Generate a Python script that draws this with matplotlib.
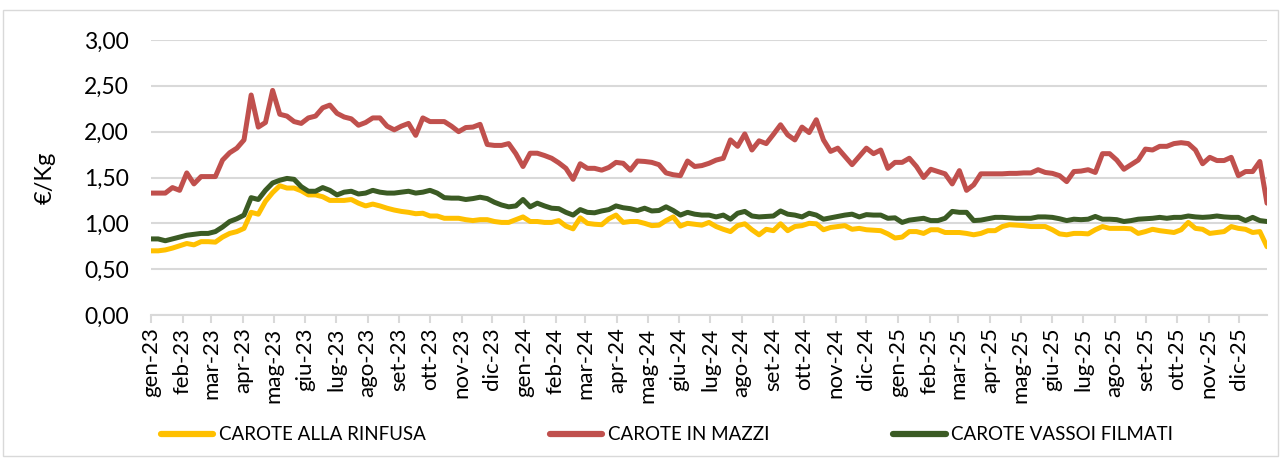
import matplotlib
matplotlib.use("Agg")
import matplotlib.pyplot as plt
from matplotlib.patches import Rectangle
import pandas as pd

plt.rcParams['font.family'] = ['Lato', 'DejaVu Sans']

# ---------------- data (weekly, €/Kg) ----------------
start_date = "2023-01-01"
n_weeks = 157

rinfusa = [
    0.70, 0.70, 0.71, 0.73, 0.755, 0.78, 0.765, 0.80, 0.80, 0.795, 0.85, 0.89, 0.91, 0.945, 1.12, 1.10, 1.24, 1.335, 1.41, 1.385, 1.385, 1.355, 1.31, 1.31, 1.29, 1.25,
    1.25, 1.25, 1.26, 1.22, 1.19, 1.21, 1.19, 1.165, 1.145, 1.13, 1.12, 1.105, 1.11, 1.08, 1.08, 1.055, 1.055, 1.055, 1.04, 1.03, 1.04, 1.04, 1.02, 1.01, 1.01, 1.04,
    1.07, 1.02, 1.02, 1.01, 1.01, 1.03, 0.97, 0.94, 1.06, 1.00, 0.99, 0.985, 1.05, 1.09, 1.01, 1.02, 1.02, 1.00, 0.975, 0.98, 1.03, 1.07, 0.97, 1.00, 0.99, 0.98,
    1.01, 0.965, 0.935, 0.91, 0.975, 0.995, 0.93, 0.875, 0.935, 0.92, 0.995, 0.92, 0.965, 0.975, 1.00, 0.995, 0.93, 0.955, 0.965, 0.975, 0.935, 0.945, 0.93, 0.925, 0.92, 0.885, 0.84,
    0.85, 0.91, 0.91, 0.89, 0.93, 0.93, 0.90, 0.90, 0.90, 0.89, 0.875, 0.89, 0.92, 0.92, 0.965, 0.985, 0.98, 0.975, 0.965, 0.965, 0.965, 0.93, 0.885, 0.875, 0.89, 0.89,
    0.885, 0.93, 0.965, 0.945, 0.945, 0.945, 0.94, 0.89, 0.91, 0.935, 0.92, 0.91, 0.90, 0.93, 1.01, 0.945, 0.935, 0.89, 0.90, 0.91, 0.965, 0.945, 0.935, 0.90, 0.91, 0.745,
]

mazzi = [
    1.33, 1.33, 1.33, 1.39, 1.36, 1.55, 1.43, 1.51, 1.51, 1.51, 1.69, 1.77, 1.82, 1.91, 2.40, 2.05, 2.10, 2.45, 2.19, 2.17, 2.11, 2.09, 2.15, 2.17, 2.26, 2.29,
    2.20, 2.16, 2.14, 2.07, 2.10, 2.15, 2.15, 2.06, 2.02, 2.06, 2.09, 1.96, 2.15, 2.11, 2.11, 2.11, 2.06, 2.00, 2.045, 2.05, 2.08, 1.86, 1.85, 1.85, 1.87, 1.76,
    1.62, 1.765, 1.765, 1.74, 1.71, 1.66, 1.60, 1.48, 1.65, 1.60, 1.60, 1.58, 1.61, 1.665, 1.655, 1.58, 1.68, 1.675, 1.665, 1.64, 1.55, 1.53, 1.52, 1.68, 1.62, 1.63,
    1.655, 1.69, 1.71, 1.91, 1.84, 1.975, 1.80, 1.90, 1.87, 1.97, 2.075, 1.965, 1.91, 2.05, 1.99, 2.13, 1.91, 1.785, 1.82, 1.73, 1.64, 1.73, 1.82, 1.76, 1.80, 1.60, 1.665,
    1.665, 1.71, 1.62, 1.50, 1.59, 1.565, 1.54, 1.43, 1.575, 1.36, 1.42, 1.54, 1.54, 1.54, 1.54, 1.545, 1.545, 1.55, 1.55, 1.585, 1.555, 1.545, 1.52, 1.455, 1.565, 1.57,
    1.585, 1.555, 1.76, 1.76, 1.69, 1.59, 1.64, 1.69, 1.81, 1.80, 1.84, 1.84, 1.87, 1.88, 1.87, 1.80, 1.65, 1.72, 1.685, 1.685, 1.72, 1.52, 1.565, 1.565, 1.675, 1.22,
]

vassoi = [
    0.83, 0.83, 0.81, 0.83, 0.85, 0.87, 0.88, 0.89, 0.89, 0.91, 0.96, 1.02, 1.05, 1.09, 1.28, 1.26, 1.36, 1.44, 1.47, 1.49, 1.48, 1.40, 1.35, 1.35, 1.39, 1.36,
    1.31, 1.34, 1.35, 1.32, 1.33, 1.36, 1.34, 1.33, 1.33, 1.34, 1.35, 1.33, 1.34, 1.36, 1.33, 1.28, 1.275, 1.275, 1.26, 1.27, 1.285, 1.27, 1.23, 1.20, 1.18, 1.19,
    1.26, 1.18, 1.22, 1.19, 1.165, 1.16, 1.12, 1.09, 1.15, 1.12, 1.115, 1.135, 1.15, 1.19, 1.17, 1.16, 1.14, 1.165, 1.135, 1.14, 1.18, 1.14, 1.09, 1.12, 1.10, 1.09,
    1.09, 1.07, 1.09, 1.045, 1.11, 1.13, 1.08, 1.07, 1.075, 1.08, 1.135, 1.10, 1.09, 1.07, 1.11, 1.09, 1.045, 1.06, 1.075, 1.09, 1.10, 1.07, 1.095, 1.09, 1.09, 1.055, 1.06,
    1.01, 1.035, 1.045, 1.055, 1.03, 1.03, 1.055, 1.13, 1.12, 1.12, 1.03, 1.035, 1.05, 1.065, 1.065, 1.06, 1.055, 1.055, 1.055, 1.07, 1.07, 1.065, 1.05, 1.03, 1.045, 1.04,
    1.045, 1.075, 1.045, 1.045, 1.04, 1.02, 1.03, 1.045, 1.05, 1.055, 1.065, 1.055, 1.065, 1.065, 1.08, 1.07, 1.065, 1.07, 1.08, 1.07, 1.065, 1.065, 1.03, 1.065, 1.03, 1.02,
]

series_names = ["CAROTE ALLA RINFUSA", "CAROTE IN MAZZI", "CAROTE VASSOI FILMATI"]
series_colors = ["#FFC000", "#C0504D", "#3B5B24"]

month_abbr = ["gen", "feb", "mar", "apr", "mag", "giu", "lug", "ago", "set", "ott", "nov", "dic"]
years = ["23", "24", "25"]
tick_labels = [f"{m}-{y}" for y in years for m in month_abbr]
y_ticks = [0.0, 0.5, 1.0, 1.5, 2.0, 2.5, 3.0]
y_label = "€/Kg"

# ---------------- figure ----------------
W, H = 1281, 459
fig = plt.figure(figsize=(W / 100, H / 100), dpi=100)
fig.patch.set_facecolor("white")

# outer chart border
fig.patches.append(Rectangle((3 / W, 3 / H), (W - 6) / W, (H - 13) / H,
                             transform=fig.transFigure, fill=False,
                             edgecolor="#D9D9D9", linewidth=1.0))

ax = fig.add_axes([151 / W, 1 - 315 / H, (1267 - 151) / W, (315 - 40) / H])

dates = pd.date_range(start_date, periods=n_weeks, freq="7D")
for vals, name, col in zip([rinfusa, mazzi, vassoi], series_names, series_colors):
    ax.plot(dates, vals, color=col, linewidth=3.6, label=name,
            solid_joinstyle="round", solid_capstyle="round", zorder=3)

ax.set_xlim(dates[0], dates[-1])
ax.set_ylim(0, 3.0)
ax.set_yticks(y_ticks)
ax.set_yticklabels([f"{v:.2f}".replace(".", ",") for v in y_ticks])
ax.yaxis.grid(True, color="#D9D9D9", linewidth=1.5, zorder=0)
ax.set_axisbelow(True)

month_ticks = pd.date_range("2023-01-01", periods=len(tick_labels), freq="MS")
ax.set_xticks(month_ticks)
ax.set_xticklabels(tick_labels, rotation=90, ha="center", va="top")

for s in ["top", "right", "left"]:
    ax.spines[s].set_visible(False)
ax.spines["bottom"].set_color("#D9D9D9")
ax.spines["bottom"].set_linewidth(1.5)

ax.tick_params(axis="y", length=0, pad=16, labelsize=16.5, labelcolor="#000000")
ax.tick_params(axis="x", length=6, width=1.5, color="#D9D9D9", pad=3,
               labelsize=16, labelcolor="#000000")

ax.set_ylabel(y_label, fontsize=17, labelpad=20)

fig.legend(loc="center", bbox_to_anchor=(667 / W, 1 - 435 / H), ncol=3,
           frameon=False, fontsize=13.5, handlelength=2.8, handletextpad=0.3,
           columnspacing=6.6)
for line in fig.legends[0].get_lines():
    line.set_linewidth(4.5)

fig.savefig("out.png", dpi=100, facecolor="white")
